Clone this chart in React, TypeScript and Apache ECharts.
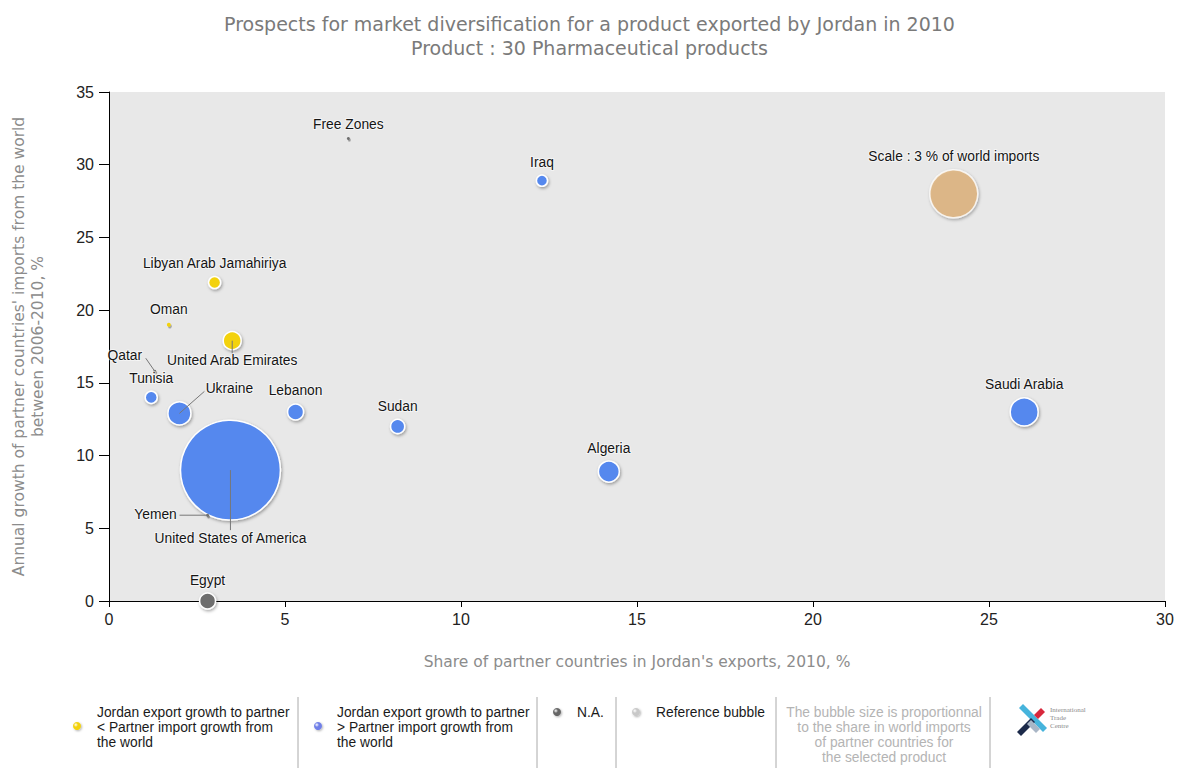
import React, { useEffect, useRef } from "react";
import * as echarts from "echarts";

// ---------- data ----------
const countries = [
  "Free Zones",
  "Iraq",
  "Libyan Arab Jamahiriya",
  "Oman",
  "United Arab Emirates",
  "Qatar",
  "Tunisia",
  "Ukraine",
  "Lebanon",
  "Sudan",
  "Algeria",
  "Saudi Arabia",
  "United States of America",
  "Yemen",
  "Egypt",
];
// Share of partner countries in Jordan's exports, 2010, %
const exportShare = [6.8, 12.3, 3.0, 1.7, 3.5, 1.3, 1.2, 2.0, 5.3, 8.2, 14.2, 26.0, 3.45, 2.8, 2.8];
// Annual growth of partner countries' imports from the world 2006-2010, %
const importGrowth = [31.8, 28.9, 21.9, 19.0, 17.9, 15.8, 14.0, 12.9, 13.0, 12.0, 8.9, 13.0, 9.0, 5.9, 0];
// Share in world imports (bubble size), %
const worldImportShare = [0.012, 0.16, 0.19, 0.02, 0.42, 0.008, 0.19, 0.69, 0.33, 0.26, 0.57, 1.02, 13.0, 0.008, 0.33];
// lower: export growth < partner import growth; higher: >; na: N.A.
const groups = ["na", "higher", "lower", "lower", "lower", "na", "higher", "higher", "higher", "higher", "higher", "higher", "higher", "na", "na"];

const referenceLabel = "Scale : 3 % of world imports";
const referenceX = 24.0;
const referenceY = 28.0;
const referenceShare = 3;

const xTicks = { min: 0, max: 30, interval: 5 };
const yTicks = { min: 0, max: 35, interval: 5 };

const titleText = "Prospects for market diversification for a product exported by Jordan in 2010\nProduct : 30 Pharmaceutical products";
const xName = "Share of partner countries in Jordan's exports, 2010, %";
const yName = "Annual growth of partner countries' imports from the world\nbetween 2006-2010, %";

const legendLower = "Jordan export growth to partner\n< Partner import growth from\nthe world";
const legendHigher = "Jordan export growth to partner\n> Partner import growth from\nthe world";
const legendNA = "N.A.";
const legendRef = "Reference bubble";
const legendNote = "The bubble size is proportionnal\nto the share in world imports\nof partner countries for\nthe selected product";

// ---------- styling ----------
const COLORS: Record<string, string> = {
  lower: "#f3d20a",
  higher: "#5588ee",
  na: "#6e6e6e",
  ref: "#e0b37a",
};
const REF_DIAM = 48;
const sizeOf = (share: number) => Math.max(3, REF_DIAM * Math.sqrt(share / referenceShare));

// label placement relative to bubble centre (px); line drawn from centre to lineTo
const labelPlacement: Record<string, { dx: number; dy: number; lineTo?: [number, number] }> = {
  "United Arab Emirates": { dx: 0, dy: 20, lineTo: [0, 13] },
  Qatar: { dx: -30, dy: -16, lineTo: [-9, -13] },
  Ukraine: { dx: 50, dy: -25, lineTo: [25, -22] },
  "United States of America": { dx: 0, dy: 68, lineTo: [0, 60] },
  Yemen: { dx: -52, dy: -1, lineTo: [-28, 0] },
};

const LABEL_FONT = "13.8px 'Liberation Sans', Arial, sans-serif";

function bubbleSeries(name: string, key: string) {
  const data: any[] = [];
  countries.forEach((c, i) => {
    if (groups[i] === key) {
      const small = sizeOf(worldImportShare[i]) < 6;
      data.push({
        name: c,
        value: [exportShare[i], importGrowth[i], worldImportShare[i]],
        itemStyle: small ? { borderWidth: 0, shadowBlur: 1 } : undefined,
      });
    }
  });
  return {
    name,
    type: "scatter",
    data,
    symbol: "circle",
    symbolSize: (v: number[]) => sizeOf(v[2]),
    itemStyle: {
      color: COLORS[key],
      borderColor: "#ffffff",
      borderWidth: 1.5,
      shadowBlur: 3,
      shadowColor: "rgba(0,0,0,0.35)",
      shadowOffsetX: 1,
      shadowOffsetY: 1.5,
      opacity: 1,
    },
    z: 2,
    silent: true,
  };
}

const labelNames = [...countries, referenceLabel];
const labelData = [
  ...countries.map((c, i) => [exportShare[i], importGrowth[i], worldImportShare[i]]),
  [referenceX, referenceY, referenceShare],
];

function renderLabel(params: any, api: any) {
  const idx = params.dataIndex;
  const name = labelNames[idx];
  const pt = api.coord([api.value(0), api.value(1)]);
  const r = sizeOf(api.value(2)) / 2;
  const place = labelPlacement[name] || { dx: 0, dy: -(r + 13) };
  const children: any[] = [];
  if (place.lineTo) {
    children.push({
      type: "line",
      shape: { x1: pt[0], y1: pt[1], x2: pt[0] + place.lineTo[0], y2: pt[1] + place.lineTo[1] },
      style: { stroke: "#777777", lineWidth: 1 },
    });
  }
  children.push({
    type: "text",
    x: pt[0] + place.dx,
    y: pt[1] + place.dy,
    style: {
      text: name,
      font: LABEL_FONT,
      fill: "#151515",
      align: "center",
      verticalAlign: "middle",
      textAlign: "center",
      textVerticalAlign: "middle",
      stroke: "rgba(255,255,255,0.55)",
      lineWidth: 2,
    },
  });
  return { type: "group", children };
}

function legendDot(cx: number, cy: number, color: string) {
  return {
    type: "circle",
    shape: { cx, cy, r: 4 },
    style: {
      fill: new echarts.graphic.RadialGradient(0.35, 0.35, 0.8, [
        { offset: 0, color: "#ffffff" },
        { offset: 0.35, color },
        { offset: 1, color },
      ]),
      shadowBlur: 2,
      shadowColor: "rgba(0,0,0,0.3)",
      shadowOffsetX: 1,
      shadowOffsetY: 1,
    },
  };
}

function legendText(x: number, y: number, text: string, color = "#1a1a1a", align = "left") {
  return {
    type: "text",
    x,
    y,
    style: {
      text,
      font: "13.8px 'Liberation Sans', Arial, sans-serif",
      fill: color,
      lineHeight: 15,
      align,
      textAlign: align,
      verticalAlign: "top",
      textVerticalAlign: "top",
    },
  };
}

function separator(x: number) {
  return { type: "line", shape: { x1: x, y1: 697, x2: x, y2: 768 }, style: { stroke: "#aaaaaa", lineWidth: 1 } };
}

function buildGraphic() {
  return [
    legendDot(77, 726, COLORS.lower),
    legendText(97, 705, legendLower),
    separator(298),
    legendDot(318, 726, "#6f7fe8"),
    legendText(337, 705, legendHigher),
    separator(537),
    legendDot(557, 712, "#666666"),
    legendText(577, 705, legendNA),
    separator(616),
    legendDot(636, 712, "#c8c8c8"),
    legendText(656, 705, legendRef),
    separator(776),
    legendText(884, 705, legendNote, "#b4b4b4", "center"),
    separator(990),
    // ITC logo (approximation)
    {
      type: "polygon",
      shape: { points: [[1019, 708], [1023, 704], [1047, 728], [1043, 732]] },
      style: { fill: "#46b4dc" },
    },
    {
      type: "polygon",
      shape: { points: [[1017, 732], [1031, 718], [1035, 722], [1021, 736]] },
      style: { fill: "#1c2a4a" },
    },
    {
      type: "polygon",
      shape: { points: [[1034, 715], [1041, 708], [1045, 712], [1038, 719]] },
      style: { fill: "#d8283c" },
    },
    {
      type: "polygon",
      shape: { points: [[1027, 724], [1031, 720], [1040, 729], [1036, 733]] },
      style: { fill: "#a9b6c6" },
    },
    {
      type: "text",
      x: 1050,
      y: 706,
      style: {
        text: "International\nTrade\nCentre",
        font: "7px 'Liberation Serif', serif",
        fill: "#8a8a8a",
        lineHeight: 8,
        align: "left",
        textAlign: "left",
        verticalAlign: "top",
        textVerticalAlign: "top",
      },
    },
  ];
}

export default function App() {
  const ref = useRef<HTMLDivElement>(null);
  useEffect(() => {
    if (!ref.current) return;
    const chart = echarts.init(ref.current, undefined, { renderer: "svg" });
    const axisLabelStyle = { color: "#222222", fontSize: 16, fontFamily: "'Liberation Sans', Arial, sans-serif" };
    const nameStyle = { color: "#8c8c8c", fontSize: 15.5, fontFamily: "'DejaVu Sans', Verdana, sans-serif", lineHeight: 19 };
    chart.setOption({
      animation: false,
      backgroundColor: "#ffffff",
      title: {
        text: titleText,
        left: "center",
        top: 7,
        textStyle: {
          color: "#7a7a7a",
          fontSize: 19,
          fontWeight: "normal",
          lineHeight: 24,
          fontFamily: "'DejaVu Sans', Verdana, sans-serif",
        },
      },
      grid: {
        left: 109,
        right: 14,
        top: 92,
        bottom: 167,
        show: true,
        backgroundColor: "#e8e8e8",
        borderWidth: 0,
      },
      xAxis: {
        type: "value",
        min: xTicks.min,
        max: xTicks.max,
        interval: xTicks.interval,
        name: xName,
        nameLocation: "middle",
        nameGap: 51,
        nameTextStyle: nameStyle,
        axisLine: { show: true, onZero: false, lineStyle: { color: "#000000", width: 1 } },
        axisTick: { show: true, length: 6, lineStyle: { color: "#000000" } },
        axisLabel: { ...axisLabelStyle, margin: 10 },
        splitLine: { show: false },
      },
      yAxis: {
        type: "value",
        min: yTicks.min,
        max: yTicks.max,
        interval: yTicks.interval,
        name: yName,
        nameLocation: "middle",
        nameGap: 62,
        nameTextStyle: nameStyle,
        axisLine: { show: true, onZero: false, lineStyle: { color: "#000000", width: 1 } },
        axisTick: { show: true, length: 10, lineStyle: { color: "#000000" } },
        axisLabel: { ...axisLabelStyle, margin: 15 },
        splitLine: { show: false },
      },
      series: [
        bubbleSeries("Jordan export growth to partner < Partner import growth from the world", "lower"),
        bubbleSeries("Jordan export growth to partner > Partner import growth from the world", "higher"),
        bubbleSeries("N.A.", "na"),
        {
          name: "Reference bubble",
          type: "scatter",
          data: [{ name: referenceLabel, value: [referenceX, referenceY, referenceShare] }],
          symbolSize: (v: number[]) => sizeOf(v[2]),
          itemStyle: {
            color: COLORS.ref,
            borderColor: "#ffffff",
            borderWidth: 1.5,
            shadowBlur: 3,
            shadowColor: "rgba(0,0,0,0.35)",
            shadowOffsetX: 1,
            shadowOffsetY: 1.5,
          },
          z: 2,
          silent: true,
        },
        {
          name: "labels",
          type: "custom",
          coordinateSystem: "cartesian2d",
          data: labelData,
          encode: { x: 0, y: 1 },
          renderItem: renderLabel,
          clip: false,
          silent: true,
          z: 5,
        },
      ],
      graphic: buildGraphic(),
    });
    return () => chart.dispose();
  }, []);
  return (
    <div
      ref={ref}
      style={{ position: "fixed", left: 0, top: 0, width: 1179, height: 768, background: "#fff" }}
    />
  );
}
